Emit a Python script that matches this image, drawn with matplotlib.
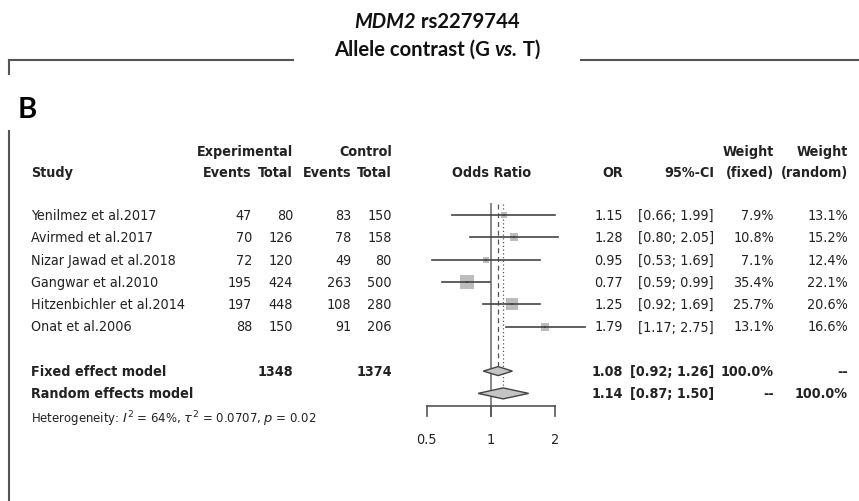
import matplotlib
matplotlib.use("Agg")
import matplotlib.pyplot as plt
import numpy as np

# study data
studies = ["Yenilmez et al.2017", "Avirmed et al.2017", "Nizar Jawad et al.2018",
           "Gangwar et al.2010", "Hitzenbichler et al.2014", "Onat et al.2006"]
exp_events = [47, 70, 72, 195, 197, 88]
exp_total = [80, 126, 120, 424, 448, 150]
ctrl_events = [83, 78, 49, 263, 108, 91]
ctrl_total = [150, 158, 80, 500, 280, 206]
or_vals = [1.15, 1.28, 0.95, 0.77, 1.25, 1.79]
ci_low = [0.66, 0.80, 0.53, 0.59, 0.92, 1.17]
ci_high = [1.99, 2.05, 1.69, 0.99, 1.69, 2.75]
w_fixed = [7.9, 10.8, 7.1, 35.4, 25.7, 13.1]
w_random = [13.1, 15.2, 12.4, 22.1, 20.6, 16.6]

fixed_est = [1.08, 0.92, 1.26]
random_est = [1.14, 0.87, 1.50]
total_exp = 1348
total_ctrl = 1374
axis_ticks = [0.5, 1, 2]
tick_labels = ["0.5", "1", "2"]

FONT = dict(family="DejaVu Sans", stretch="condensed")
TXT = "#222222"
LINE = "#555555"
FS = 10.3

fig = plt.figure(figsize=(8.59, 5.02), dpi=100)
bg = fig.add_axes([0, 0, 1, 1])
bg.set_xlim(0, 859)
bg.set_ylim(502, 0)
bg.axis("off")


def centered_pieces(x, y, pieces, **kw):
    # lay out text pieces side by side, centred on x
    renderer = fig.canvas.get_renderer()
    arts = [bg.text(0, y, s, ha="left", va="center", style=st, **kw) for s, st in pieces]
    widths = []
    for a in arts:
        bb = a.get_window_extent(renderer=renderer)
        widths.append(bb.width)
    cur = x - sum(widths) / 2
    for a, w in zip(arts, widths):
        a.set_x(cur)
        cur += w


# title and frame
title_kw = dict(fontsize=14.6, family="Lato", weight="bold", color="#111")
centered_pieces(437, 22, [("MDM2", "italic"), (" rs2279744", "normal")], **title_kw)
centered_pieces(437, 50, [("Allele contrast (G ", "normal"), ("vs.", "italic"), (" T)", "normal")], **title_kw)
bg.plot([9, 293], [61, 61], color=LINE, lw=1.5)
bg.plot([581, 859], [61, 61], color=LINE, lw=1.5)
bg.plot([9, 9], [61, 75], color=LINE, lw=1.5)
bg.plot([9, 9], [132, 502], color=LINE, lw=1.5)
bg.text(18, 110, "B", fontsize=21, family="Lato", weight="bold", ha="left", va="center", color="#000")

# row positions
step = 22.3
rows = [216 + step * i for i in range(len(studies))]
y_fixed = 216 + step * 7
y_random = 216 + step * 8
y_het = 419

# headers
hb = dict(fontsize=FS, weight="bold", va="center", color=TXT, **FONT)
bg.text(293, 152, "Experimental", ha="right", **hb)
bg.text(392, 152, "Control", ha="right", **hb)
bg.text(774, 152, "Weight", ha="right", **hb)
bg.text(848, 152, "Weight", ha="right", **hb)
bg.text(31, 173, "Study", ha="left", **hb)
bg.text(252, 173, "Events", ha="right", **hb)
bg.text(293, 173, "Total", ha="right", **hb)
bg.text(351, 173, "Events", ha="right", **hb)
bg.text(392, 173, "Total", ha="right", **hb)
bg.text(492, 173, "Odds Ratio", ha="center", **hb)
bg.text(623, 173, "OR", ha="right", **hb)
bg.text(714, 173, "95%-CI", ha="right", **hb)
bg.text(774, 173, "(fixed)", ha="right", **hb)
bg.text(848, 173, "(random)", ha="right", **hb)

# study rows
rn = dict(fontsize=FS, va="center", color=TXT, **FONT)
for i, y in enumerate(rows):
    bg.text(31, y, studies[i], ha="left", **rn)
    bg.text(252, y, str(exp_events[i]), ha="right", **rn)
    bg.text(293, y, str(exp_total[i]), ha="right", **rn)
    bg.text(351, y, str(ctrl_events[i]), ha="right", **rn)
    bg.text(392, y, str(ctrl_total[i]), ha="right", **rn)
    bg.text(623, y, f"{or_vals[i]:.2f}", ha="right", **rn)
    bg.text(714, y, f"[{ci_low[i]:.2f}; {ci_high[i]:.2f}]", ha="right", **rn)
    bg.text(774, y, f"{w_fixed[i]:.1f}%", ha="right", **rn)
    bg.text(848, y, f"{w_random[i]:.1f}%", ha="right", **rn)

# pooled rows
bg.text(31, y_fixed, "Fixed effect model", ha="left", **hb)
bg.text(293, y_fixed, str(total_exp), ha="right", **hb)
bg.text(392, y_fixed, str(total_ctrl), ha="right", **hb)
bg.text(623, y_fixed, f"{fixed_est[0]:.2f}", ha="right", **hb)
bg.text(714, y_fixed, f"[{fixed_est[1]:.2f}; {fixed_est[2]:.2f}]", ha="right", **hb)
bg.text(774, y_fixed, "100.0%", ha="right", **hb)
bg.text(848, y_fixed, "--", ha="right", **hb)
bg.text(31, y_random, "Random effects model", ha="left", **hb)
bg.text(623, y_random, f"{random_est[0]:.2f}", ha="right", **hb)
bg.text(714, y_random, f"[{random_est[1]:.2f}; {random_est[2]:.2f}]", ha="right", **hb)
bg.text(774, y_random, "--", ha="right", **hb)
bg.text(848, y_random, "100.0%", ha="right", **hb)
bg.text(31, y_het, r"Heterogeneity: $I^2$ = 64%, $\tau^2$ = 0.0707, $p$ = 0.02",
        ha="left", va="center", fontsize=9.4, color=TXT, **FONT)

# forest panel on a log2 scale
px_one, px_per_log2 = 491.0, 64.3
left_px, right_px = 420, 600
fa = fig.add_axes([left_px / 859, 0, (right_px - left_px) / 859, 1])
fa.set_xscale("log", base=2)
fa.set_xlim(2 ** ((left_px - px_one) / px_per_log2), 2 ** ((right_px - px_one) / px_per_log2))
fa.set_ylim(502, 0)
fa.axis("off")

# reference lines
fa.plot([1, 1], [205, 417], color="#888888", lw=1.4, zorder=1)
fa.plot([fixed_est[0]] * 2, [205, y_fixed - 5], color=LINE, lw=0.9, ls=(0, (4, 3)), zorder=1)
fa.plot([random_est[0]] * 2, [205, y_random - 6], color=LINE, lw=0.9, ls=(0, (1, 2)), zorder=1)

# squares and CI lines
for i, y in enumerate(rows):
    fa.scatter([or_vals[i]], [y], marker="s", s=3.0 * w_fixed[i], color="#bdbdbd", lw=0, zorder=2)
    fa.plot([ci_low[i], ci_high[i]], [y, y], color="#444444", lw=1.2, zorder=3)
    fa.scatter([or_vals[i]], [y], marker="s", s=3, color="#444444", lw=0, zorder=4)

# diamonds
for est, y, h in [(fixed_est, y_fixed, 4.5), (random_est, y_random, 5.5)]:
    fa.fill([est[1], est[0], est[2], est[0]], [y, y - h, y, y + h],
            facecolor="#c4c4c4", edgecolor="#444444", lw=1.0, zorder=3)

# x axis
fa.plot([axis_ticks[0], axis_ticks[-1]], [407, 407], color=LINE, lw=1.2, zorder=1)
for t, lab in zip(axis_ticks, tick_labels):
    fa.plot([t, t], [407, 417], color=LINE, lw=1.2, zorder=1)
    fa.text(t, 440, lab, ha="center", va="center", fontsize=FS, color=TXT, **FONT)

fig.savefig("out.png", dpi=100, facecolor="white")
